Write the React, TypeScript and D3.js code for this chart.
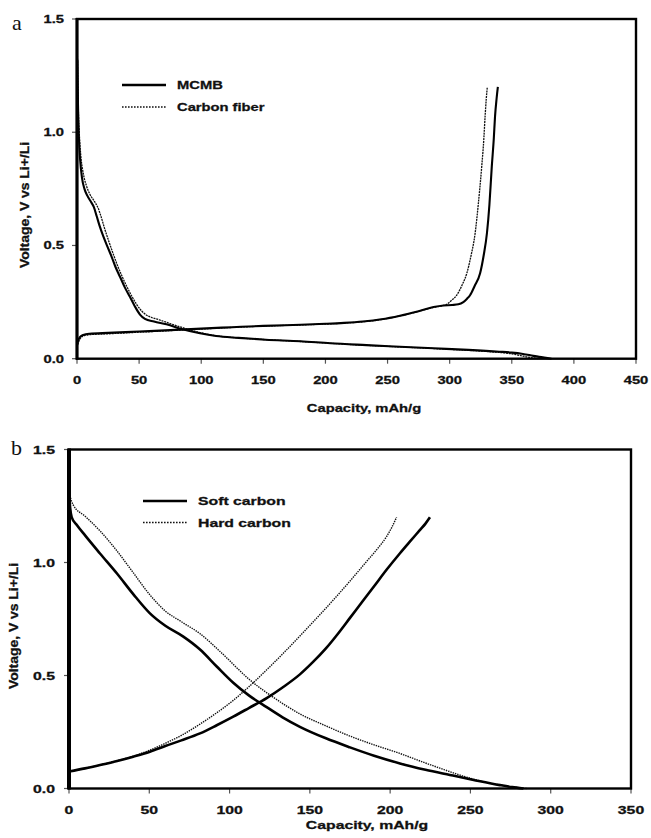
import React from 'react';
import * as d3 from 'd3';

// ---------- Panel a data (Capacity mAh/g, Voltage V) ----------
const mcmbDischarge: [number, number][] = [
  [0.3, 1.32], [0.8, 1.12], [1.5, 0.98], [2.5, 0.88], [4, 0.8], [6, 0.75], [8.3, 0.72], [11, 0.695],
  [13.5, 0.67], [15.8, 0.63], [18, 0.59], [21.2, 0.54], [24.5, 0.495], [27.9, 0.45], [31, 0.405],
  [34.6, 0.362], [38.5, 0.315], [42.7, 0.272], [46.5, 0.232], [50.7, 0.195], [54.7, 0.176],
  [62, 0.164], [72, 0.152], [85, 0.13], [99, 0.112], [112, 0.1], [130, 0.092], [152, 0.084],
  [180, 0.077], [204, 0.068], [233, 0.06], [260, 0.053], [287, 0.046], [315, 0.039], [340, 0.031],
  [350, 0.027], [358, 0.022], [365, 0.015], [372, 0.008], [382, 0],
];
const cfDischarge: [number, number][] = [
  [0.3, 1.34], [0.9, 1.14], [1.8, 1.0], [3, 0.9], [5, 0.82], [7.5, 0.765], [10.5, 0.725], [14, 0.695],
  [17, 0.665], [19.5, 0.625], [22.5, 0.57], [25.5, 0.52], [29, 0.465], [32.5, 0.413], [36, 0.367],
  [40, 0.32], [44, 0.277], [48, 0.24], [52, 0.211], [56, 0.192], [60, 0.182], [66, 0.172],
  [75, 0.155], [88, 0.132], [100, 0.114], [112, 0.101], [130, 0.092], [152, 0.084], [180, 0.076],
  [204, 0.068], [233, 0.059], [260, 0.052], [287, 0.045], [315, 0.037], [335, 0.03], [348, 0.023],
  [356, 0.015], [363, 0.007], [372, 0],
];
const mcmbCharge: [number, number][] = [
  [0, 0.06], [1, 0.08], [2.5, 0.096], [5, 0.105], [10, 0.11], [25, 0.114], [50, 0.12], [75, 0.126],
  [100, 0.133], [125, 0.139], [150, 0.145], [180, 0.15], [200, 0.154], [215, 0.158], [230, 0.164],
  [245, 0.174], [260, 0.19], [275, 0.21], [287, 0.228], [295, 0.235], [302, 0.237], [307, 0.24],
  [311, 0.25], [314, 0.265], [316.4, 0.28], [320, 0.32], [324.5, 0.377], [327.5, 0.46], [330, 0.554],
  [332, 0.68], [333.9, 0.848], [335.5, 0.97], [336.5, 1.068], [337.8, 1.15], [338.8, 1.2],
];
const cfCharge: [number, number][] = [
  [0, 0.05], [1, 0.07], [2.5, 0.088], [5, 0.1], [10, 0.106], [25, 0.11], [50, 0.117], [75, 0.124],
  [100, 0.131], [125, 0.138], [150, 0.144], [180, 0.149], [200, 0.153], [215, 0.157], [230, 0.163],
  [245, 0.173], [260, 0.189], [275, 0.209], [287, 0.227], [294, 0.234], [297.6, 0.24], [301, 0.255],
  [305.7, 0.281], [310, 0.325], [313.8, 0.377], [317, 0.45], [320.5, 0.554], [323, 0.68],
  [325.8, 0.848], [327.5, 0.97], [328.5, 1.068], [329.5, 1.15], [330.3, 1.2],
];

// ---------- Panel b data ----------
const softDischarge: [number, number][] = [
  [0, 1.33], [0.5, 1.26], [1.7, 1.2], [5, 1.165], [10, 1.12], [19.3, 1.04], [30, 0.95], [40, 0.86],
  [50.4, 0.775], [60, 0.72], [71.2, 0.672], [81.6, 0.615], [92, 0.54], [102.3, 0.468], [112, 0.412],
  [123.1, 0.36], [133, 0.315], [143.8, 0.273], [160, 0.222], [175, 0.182], [190, 0.145],
  [206.1, 0.111], [222, 0.083], [237.2, 0.06], [252, 0.038], [268.4, 0.015], [276, 0.006], [283, 0],
];
const hardDischarge: [number, number][] = [
  [0, 1.36], [0.6, 1.3], [2.7, 1.254], [10, 1.205], [19.3, 1.14], [30, 1.05], [40, 0.955], [50, 0.86],
  [60, 0.785], [70, 0.738], [81.6, 0.685], [95, 0.6], [112.7, 0.48], [128, 0.4], [143.8, 0.33],
  [160, 0.277], [175, 0.232], [190, 0.193], [206.1, 0.155], [220, 0.118], [231, 0.09], [245, 0.056],
  [258, 0.03], [272, 0.011], [285, 0],
];
const softCharge: [number, number][] = [
  [0, 0.075], [10, 0.089], [20, 0.105], [30, 0.122], [40, 0.141], [50.4, 0.163], [60, 0.188],
  [70, 0.213], [81.6, 0.244], [92, 0.28], [102.3, 0.318], [112, 0.356], [123.1, 0.4], [133, 0.447],
  [143.8, 0.505], [152, 0.56], [160, 0.62], [167.5, 0.685], [175, 0.755], [182.5, 0.825], [190, 0.895],
  [198, 0.97], [206, 1.04], [212, 1.09], [218.6, 1.144], [222, 1.172], [224.8, 1.2],
];
const hardCharge: [number, number][] = [
  [0, 0.075], [10, 0.089], [20, 0.105], [30, 0.123], [40, 0.143], [50.4, 0.17], [60, 0.2], [70, 0.235],
  [81.6, 0.285], [92, 0.335], [102.3, 0.39], [112, 0.45], [123.1, 0.525], [133, 0.595], [143.8, 0.675],
  [154, 0.752], [164.6, 0.834], [175, 0.918], [185.4, 1.005], [192, 1.06], [197.8, 1.115], [201, 1.155],
  [204, 1.2],
];

// ---------- Ticks / labels ----------
const xTicksA = [0, 50, 100, 150, 200, 250, 300, 350, 400, 450];
const xTicksB = [0, 50, 100, 150, 200, 250, 300, 350];
const yTicks = [0, 0.5, 1.0, 1.5];
const legendA = ['MCMB', 'Carbon fiber'];
const legendB = ['Soft carbon', 'Hard carbon'];
const xTitle = 'Capacity, mAh/g';
const yTitle = 'Voltage, V vs Li+/Li';

const FONT = '"Liberation Sans", Arial, sans-serif';

function SText(props: {
  x: number; y: number; sx: number; anchor?: string; size?: number; rotate?: number; children: any;
}) {
  const { x, y, sx, anchor = 'start', size = 11.6, rotate = 0, children } = props;
  return (
    <text
      transform={`translate(${x},${y}) rotate(${rotate}) scale(${sx},1)`}
      textAnchor={anchor}
      dominantBaseline="central"
      fontFamily={FONT}
      fontWeight="bold"
      fontSize={size}
      fill="#111"
      stroke="#111"
      strokeWidth={0.3}
    >
      {children}
    </text>
  );
}

type PanelProps = {
  left: number; right: number; top: number; bottom: number; xMax: number; xTicks: number[];
  solid: [number, number][][]; dotted: [number, number][][]; legend: string[];
  legendX: number; legendY: number[]; sx: number; titleX: number; titleY: number;
  yTitleX: number; yTitleY: number; tickLabelX: number; xLabelY: number; leftW: number;
  solidW: number; dotW: number; dash: string; letter: string; letterX: number; letterY: number;
};

function Panel(p: PanelProps) {
  const x = d3.scaleLinear().domain([0, p.xMax]).range([p.left, p.right]);
  const y = d3.scaleLinear().domain([0, 1.5]).range([p.bottom, p.top]);
  const line = d3.line<[number, number]>().x(d => x(d[0])).y(d => y(d[1])).curve(d3.curveMonotoneX);
  return (
    <g>
      <text x={p.letterX} y={p.letterY} fontFamily='"Liberation Serif", "Times New Roman", serif' fontSize={22} fill="#111">{p.letter}</text>
      {p.xTicks.map(t => (
        <g key={'x' + t}>
          <line x1={x(t)} x2={x(t)} y1={p.bottom} y2={p.bottom + 5} stroke="#555" strokeWidth={1.2} />
          <SText x={x(t)} y={p.xLabelY} sx={p.sx} anchor="middle">{String(t)}</SText>
        </g>
      ))}
      {yTicks.map(t => (
        <g key={'y' + t}>
          <line x1={p.left - 5} x2={p.left} y1={y(t)} y2={y(t)} stroke="#555" strokeWidth={1.2} />
          <SText x={p.tickLabelX} y={y(t)} sx={p.sx} anchor="end">{d3.format('.1f')(t)}</SText>
        </g>
      ))}
      {p.dotted.map((d, i) => (
        <path key={'d' + i} d={line(d) || ''} fill="none" stroke="#111" strokeWidth={p.dotW} strokeDasharray={p.dash} />
      ))}
      {p.solid.map((d, i) => (
        <path key={'s' + i} d={line(d) || ''} fill="none" stroke="#000" strokeWidth={p.solidW} />
      ))}
      <rect x={p.left} y={p.top} width={p.right - p.left} height={p.bottom - p.top} fill="none" stroke="#000" strokeWidth={2.4} />
      <line x1={p.left} x2={p.left} y1={p.top - 1} y2={p.bottom + 1} stroke="#000" strokeWidth={p.leftW} />
      <line x1={p.legendX} x2={p.legendX + 44} y1={p.legendY[0]} y2={p.legendY[0]} stroke="#000" strokeWidth={2.6} />
      <SText x={p.legendX + 55} y={p.legendY[0]} sx={p.sx}>{p.legend[0]}</SText>
      <line x1={p.legendX} x2={p.legendX + 44} y1={p.legendY[1]} y2={p.legendY[1]} stroke="#111" strokeWidth={1.6} strokeDasharray="1.6 1.4" />
      <SText x={p.legendX + 55} y={p.legendY[1]} sx={p.sx}>{p.legend[1]}</SText>
      <SText x={p.titleX} y={p.titleY} sx={p.sx} anchor="middle">{xTitle}</SText>
      <SText x={p.yTitleX} y={p.yTitleY} sx={1.16} anchor="middle" rotate={-90} size={12}>{yTitle}</SText>
    </g>
  );
}

export default function App() {
  return (
    <svg width={651} height={838} style={{ position: 'absolute', left: 0, top: 0, background: '#fff' }}>
      <rect x={0} y={0} width={651} height={838} fill="#fff" />
      <Panel
        left={77} right={636} top={19} bottom={358.7} xMax={450} xTicks={xTicksA}
        solid={[mcmbDischarge, mcmbCharge]} dotted={[cfDischarge, cfCharge]}
        legend={legendA} legendX={122} legendY={[85, 107]} sx={1.27}
        titleX={364} titleY={408} yTitleX={25} yTitleY={205} tickLabelX={64} xLabelY={380}
        leftW={3} solidW={2.1} dotW={1.3} dash="2 0.8" letter="a" letterX={12} letterY={30}
      />
      <Panel
        left={69} right={631} top={449.5} bottom={788.5} xMax={350} xTicks={xTicksB}
        solid={[softDischarge, softCharge]} dotted={[hardDischarge, hardCharge]}
        legend={legendB} legendX={143} legendY={[501, 522.5]} sx={1.36}
        titleX={367} titleY={825} yTitleX={14} yTitleY={626} tickLabelX={55} xLabelY={810}
        leftW={4} solidW={2.6} dotW={1.4} dash="1.4 1" letter="b" letterX={11} letterY={455}
      />
    </svg>
  );
}
